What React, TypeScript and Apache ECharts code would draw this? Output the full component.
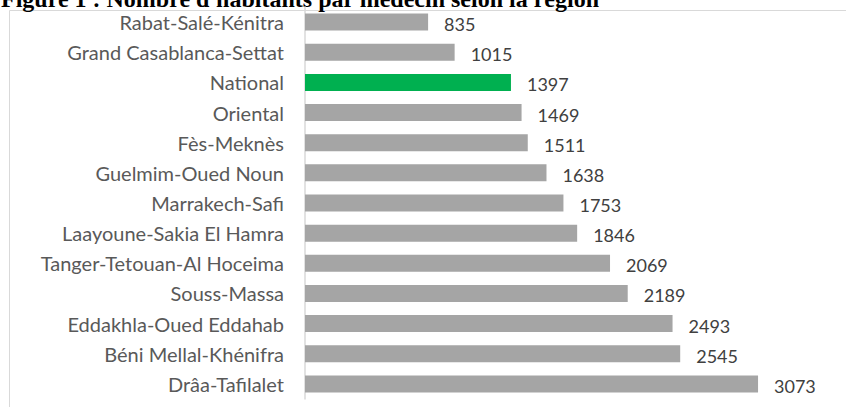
import React, { useEffect, useRef } from "react";
import * as echarts from "echarts";

const regions = [
  "Rabat-Salé-Kénitra",
  "Grand Casablanca-Settat",
  "National",
  "Oriental",
  "Fès-Meknès",
  "Guelmim-Oued Noun",
  "Marrakech-Safi",
  "Laayoune-Sakia El Hamra",
  "Tanger-Tetouan-Al Hoceima",
  "Souss-Massa",
  "Eddakhla-Oued Eddahab",
  "Béni Mellal-Khénifra",
  "Drâa-Tafilalet",
];
const habitantsParMedecin = [835, 1015, 1397, 1469, 1511, 1638, 1753, 1846, 2069, 2189, 2493, 2545, 3073];
const highlighted = "National";
const titleText = "Figure 1 : Nombre d'habitants par médecin selon la région";

export default function App() {
  const ref = useRef<HTMLDivElement>(null);
  useEffect(() => {
    if (!ref.current) return;
    const chart = echarts.init(ref.current, undefined, { renderer: "svg" });
    chart.setOption({
      animation: false,
      backgroundColor: "#ffffff",
      graphic: [
        {
          type: "rect",
          shape: { x: 9.5, y: 10.5, width: 900, height: 500 },
          style: { fill: "none", stroke: "#d9d9d9", lineWidth: 1 },
          z: -1,
        },
        {
          type: "text",
          x: 1,
          y: 11,
          style: {
            text: titleText,
            font: "bold 24px 'Liberation Serif', 'Times New Roman', serif",
            fill: "#000000",
            verticalAlign: "bottom",
          },
        },
      ],
      grid: { left: 305, right: 25, top: 7, bottom: 8, containLabel: false },
      xAxis: {
        type: "value",
        min: 0,
        max: 3500,
        show: false,
        splitLine: { show: false },
      },
      yAxis: {
        type: "category",
        data: regions,
        inverse: true,
        axisLine: { show: true, lineStyle: { color: "#d9d9d9", width: 1.5 } },
        axisTick: { show: false },
        axisLabel: {
          color: "#595959",
          fontFamily: "Lato",
          fontSize: 20,
          margin: 21,
        },
        splitLine: { show: false },
      },
      series: [
        {
          type: "bar",
          barWidth: 17,
          data: habitantsParMedecin.map((v, i) => ({
            value: v,
            itemStyle: { color: regions[i] === highlighted ? "#00b050" : "#a5a5a5" },
          })),
          label: {
            show: true,
            position: "right",
            distance: 16,
            offset: [0, 2],
            color: "#404040",
            fontFamily: "Lato",
            fontSize: 18,
          },
        },
      ],
    });
    return () => chart.dispose();
  }, []);
  return (
    <div
      ref={ref}
      style={{ position: "fixed", left: 0, top: 0, width: 846, height: 407 }}
    />
  );
}
